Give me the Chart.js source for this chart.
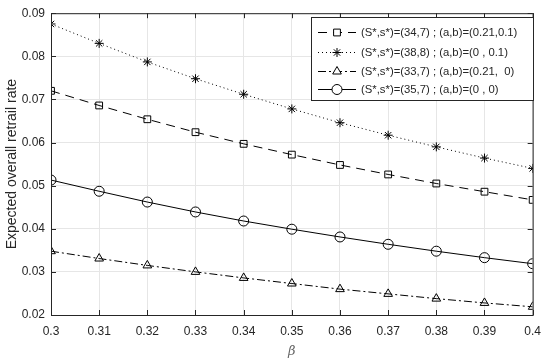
<!DOCTYPE html>
<html>
<head>
<meta charset="utf-8">
<script src="https://cdn.jsdelivr.net/npm/chart.js@4"></script>
<style>
  html, body { margin: 0; padding: 0; background: #fff; }
  #wrap { width: 550px; height: 359px; }
</style>
</head>
<body>
<div id="wrap"><canvas id="c"></canvas></div>
<script>
const beta = [0.30, 0.31, 0.32, 0.33, 0.34, 0.35, 0.36, 0.37, 0.38, 0.39, 0.40];
const labels = [
  '(S*,s*)=(34,7) ; (a,b)=(0.21,0.1)',
  '(S*,s*)=(38,8) ; (a,b)=(0 , 0.1)',
  '(S*,s*)=(33,7) ; (a,b)=(0.21,  0)',
  '(S*,s*)=(35,7) ; (a,b)=(0 , 0)'
];
const sq   = [0.0720, 0.0686, 0.0654, 0.0624, 0.0597, 0.0572, 0.0548, 0.0526, 0.0505, 0.0486, 0.0467];
const star = [0.0875, 0.0830, 0.0787, 0.0748, 0.0712, 0.0678, 0.0646, 0.0617, 0.0590, 0.0564, 0.0540];
const tri  = [0.0348, 0.0331, 0.0315, 0.0300, 0.0286, 0.0273, 0.0260, 0.0249, 0.0238, 0.0228, 0.0219];
const circ = [0.0513, 0.0487, 0.0462, 0.0439, 0.0418, 0.0399, 0.0381, 0.0364, 0.0348, 0.0333, 0.0319];

const pts = arr => arr.map((v, i) => ({ x: beta[i], y: v }));
const ink = '#262626';
const sans = '"Liberation Sans", Arial, sans-serif';

function ds(label, data, style, radius, dash) {
  return {
    label, data: pts(data),
    borderColor: '#000', backgroundColor: 'rgba(0,0,0,0)',
    borderWidth: 1, borderDash: dash,
    pointStyle: style, pointRadius: radius, pointBorderColor: '#000',
    pointBorderWidth: 1, pointBackgroundColor: 'rgba(0,0,0,0)',
    tension: 0
  };
}

// MATLAB-like box, inward ticks and legend inside the axes
const boxPlugin = {
  id: 'box',
  afterDatasetsDraw(chart) {
    const { ctx, chartArea: a, scales } = chart;
    ctx.save();
    ctx.strokeStyle = ink;
    ctx.lineWidth = 1;
    ctx.setLineDash([]);
    ctx.strokeRect(a.left + 0.5, a.top + 0.5, a.right - a.left, a.bottom - a.top);
    ctx.beginPath();
    beta.forEach(v => {
      const x = Math.round(scales.x.getPixelForValue(v)) + 0.5;
      ctx.moveTo(x, a.bottom); ctx.lineTo(x, a.bottom - 5);
      ctx.moveTo(x, a.top); ctx.lineTo(x, a.top + 5);
    });
    scales.y.ticks.forEach(t => {
      const y = Math.round(scales.y.getPixelForValue(t.value)) + 0.5;
      ctx.moveTo(a.left, y); ctx.lineTo(a.left + 5, y);
      ctx.moveTo(a.right, y); ctx.lineTo(a.right - 5, y);
    });
    ctx.stroke();

    // legend
    const L = 311, T = 17, W = 222, H = 83;
    ctx.fillStyle = '#fff';
    ctx.fillRect(L, T, W, H);
    ctx.strokeStyle = ink;
    ctx.strokeRect(L + 0.5, T + 0.5, W, H);
    ctx.font = '11.3px ' + sans;
    ctx.textBaseline = 'middle';
    const rows = [32, 52, 71, 89];
    chart.data.datasets.forEach((d, i) => {
      const y = rows[i] + 0.5;
      ctx.strokeStyle = '#000';
      ctx.setLineDash(d.borderDash || []);
      ctx.beginPath();
      ctx.moveTo(318, y); ctx.lineTo(356, y);
      ctx.stroke();
      ctx.setLineDash([]);
      ctx.fillStyle = '#fff';
      Chart.helpers.drawPoint(ctx, { pointStyle: d.pointStyle, radius: d.pointRadius, borderWidth: 1 }, 337, y);
      ctx.fillStyle = ink;
      ctx.fillText(d.label, 361, y);
    });
    ctx.restore();
  }
};

new Chart(document.getElementById('c'), {
  type: 'line',
  data: {
    datasets: [
      ds(labels[0], sq, 'rect', 4.8, [9, 6]),
      ds(labels[1], star, 'star', 4.5, [1, 3]),
      ds(labels[2], tri, 'triangle', 5, [8, 3, 2, 3]),
      ds(labels[3], circ, 'circle', 5, [])
    ]
  },
  plugins: [boxPlugin],
  options: {
    responsive: true,
    maintainAspectRatio: false,
    animation: false,
    layout: { padding: { top: 7, right: 10, left: 0, bottom: 0 } },
    plugins: { legend: { display: false }, tooltip: { enabled: false } },
    scales: {
      x: {
        type: 'linear', min: 0.3, max: 0.4,
        afterFit: s => { s.height = 44; },
        afterBuildTicks: s => { s.ticks = beta.map(v => ({ value: v })); },
        ticks: {
          color: ink, padding: 9, maxRotation: 0,
          font: { family: sans, size: 12 },
          callback: v => String(+v.toFixed(2))
        },
        grid: { color: '#e6e6e6', drawTicks: false },
        border: { display: false },
        title: {
          display: true, text: 'β', color: '#666', padding: { top: 0, bottom: 0 },
          font: { family: '"DejaVu Serif", serif', size: 13, style: 'italic' }
        }
      },
      y: {
        min: 0.02, max: 0.09,
        afterFit: s => { s.width = 51; },
        ticks: {
          stepSize: 0.01, color: ink, padding: 6,
          font: { family: sans, size: 12 },
          callback: v => (+v.toFixed(2)).toFixed(2)
        },
        grid: { color: '#e6e6e6', drawTicks: false },
        border: { display: false },
        title: {
          display: true, text: 'Expected overall retrail rate', color: ink,
          padding: { top: 4, bottom: 0 },
          font: { family: sans, size: 14 }
        }
      }
    }
  }
});
</script>
</body>
</html>
